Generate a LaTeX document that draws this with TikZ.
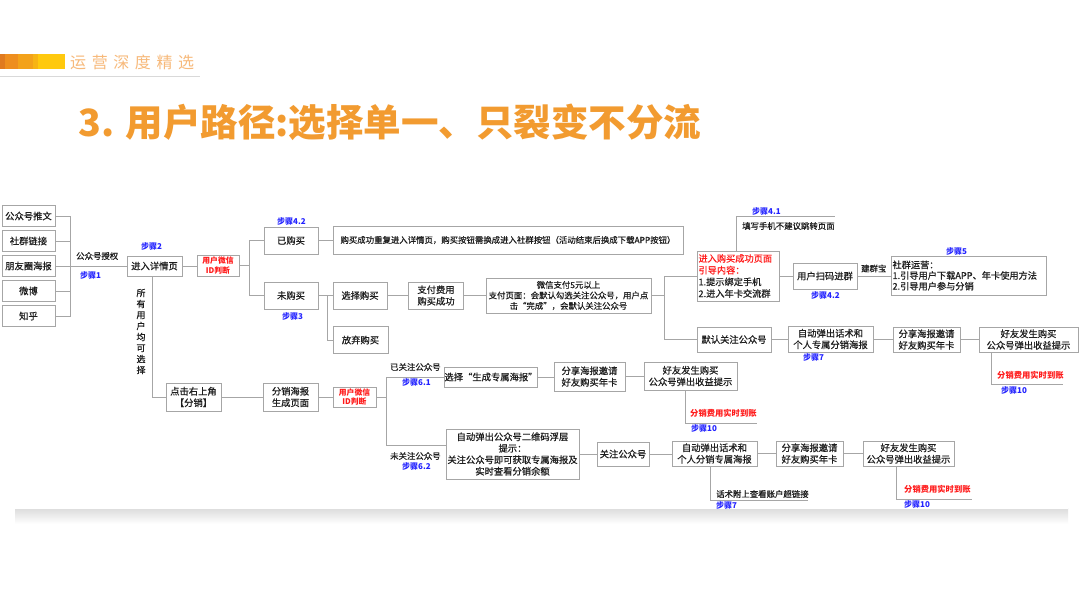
\documentclass[tikz,border=0pt]{standalone}
\usepackage{fontspec}
\setmainfont{Noto Sans CJK SC}
\newfontfamily\hdfont[LetterSpace=35]{Noto Sans CJK SC}
\newfontfamily\bxfont[FakeBold=0.6]{Noto Sans CJK SC}
\usetikzlibrary{calc}
\definecolor{ttl}{HTML}{F29B30}
\definecolor{hdr}{HTML}{F7B97A}
\definecolor{bx}{HTML}{A6A6A6}
\definecolor{ln}{HTML}{A6A6A6}
\definecolor{stepblue}{HTML}{2222FF}
\definecolor{redtxt}{HTML}{FF1A1A}
\definecolor{txt}{HTML}{1E1E1E}
\definecolor{barA}{HTML}{E07A1F}
\definecolor{barB}{HTML}{EE8E1E}
\definecolor{barC}{HTML}{F3A21A}
\definecolor{barD}{HTML}{F7B414}
\definecolor{barE}{HTML}{FFC90E}
\begin{document}
\begin{tikzpicture}[x=1pt,y=-1pt,
  box/.style={draw=bx, line width=0.9pt, fill=white, inner sep=0pt, text=txt, align=center,
    font=\bxfont\fontsize{9.3}{11.5}\selectfont},
  sbox/.style={box, font=\bxfont\fontsize{8.4}{10.5}\selectfont},
  idbox/.style={box, text=redtxt, font=\bfseries\fontsize{7.8}{9.5}\selectfont},
  lbox/.style={box, align=left, inner xsep=1.5pt},
  steplbl/.style={anchor=west, inner sep=0pt, text=stepblue, font=\bfseries\fontsize{8}{9}\selectfont},
  redlbl/.style={anchor=west, inner sep=0pt, text=redtxt, font=\bfseries\fontsize{8.3}{10}\selectfont},
  lbl/.style={anchor=west, inner sep=0pt, text=txt, font=\bxfont\fontsize{8.4}{10}\selectfont},
  conn/.style={draw=ln, line width=0.9pt}]
\useasboundingbox (0,0) rectangle (1080,608);
\fill[white] (0,0) rectangle (1080,608);
% card shadow
\shade[top color=black!14, bottom color=white] (15,508) rectangle (1068,524);
\fill[white] (15,200) rectangle (1068,509);
% header
\fill[barA] (0,54) rectangle (5,69);
\fill[barB] (5,54) rectangle (18,69);
\fill[barC] (18,54) rectangle (33,69);
\fill[barD] (33,54) rectangle (38,69);
\fill[barE] (38,54) rectangle (65,69);
\draw[black!15, line width=1pt] (0,76) -- (200,76);
\node[anchor=west, inner sep=0pt, text=hdr, font=\hdfont\fontsize{16}{16}\selectfont] (hd) at (70,62) {运营深度精选};
\node[anchor=west, inner sep=0pt, text=ttl, font=\bfseries\fontsize{37.5}{40}\selectfont] (title) at (78,122) {3. 用户路径:选择单一、只裂变不分流};

% left sources
\node[box, minimum width=53pt, minimum height=21pt] (s1) at (28.5,216) {公众号推文};
\node[box, minimum width=53pt, minimum height=21pt] (s2) at (28.5,241) {社群链接};
\node[box, minimum width=53pt, minimum height=21pt] (s3) at (28.5,266) {朋友圈海报};
\node[box, minimum width=53pt, minimum height=21pt] (s4) at (28.5,291) {微博};
\node[box, minimum width=53pt, minimum height=21pt] (s5) at (28.5,316) {知乎};
\coordinate (j1) at (70,266);

\node[box, minimum width=55pt, minimum height=20pt] (detail) at (154.5,266) {进入详情页};
\node[idbox, minimum width=42pt, minimum height=21pt] (id1) at (218,265.5) {用户微信\\ID判断};
\node[box, minimum width=54pt, minimum height=27pt] (bought) at (291,240.5) {已购买};
\node[box, minimum width=54pt, minimum height=27pt] (notb) at (291,295.5) {未购买};
\node[sbox, minimum width=350pt, minimum height=28pt] (rep) at (508,240) {购买成功重复进入详情页，购买按钮需换成进入社群按钮（活动结束后换成下载APP按钮）};
\node[box, minimum width=54pt, minimum height=27pt] (sel) at (360,295.5) {选择购买};
\node[box, minimum width=55pt, minimum height=27pt] (aband) at (360.5,340) {放弃购买};
\node[box, minimum width=55pt, minimum height=27pt] (pay) at (436,295.5) {支付费用\\购买成功};
\node[sbox, minimum width=165pt, minimum height=35pt] (wx) at (568.5,295.5) {微信支付5元以上\\支付页面：会默认勾选关注公众号，用户点\\击“完成”，会默认关注公众号};
\node[lbox, text width=79pt, minimum height=50pt, font=\bxfont\fontsize{9.2}{11.7}\selectfont] (succ) at (738,276) {\textcolor{redtxt}{进入购买成功页面}\\\textcolor{redtxt}{引导内容：}\\1.提示绑定手机\\2.进入年卡交流群};
\node[box, minimum width=64pt, minimum height=26pt] (scan) at (825,276) {用户扫码进群};
\node[lbox, text width=152pt, minimum height=39pt, font=\bxfont\fontsize{9.2}{10.7}\selectfont] (comm) at (968.5,275.5) {社群运营：\\1.引导用户下载APP、年卡使用方法\\2.引导用户参与分销};
\node[box, minimum width=74pt, minimum height=25pt] (dflt) at (734,339.5) {默认关注公众号};
\node[box, minimum width=85pt, minimum height=26pt] (pop1) at (830.5,339) {自动弹出话术和\\个人专属分销海报};
\node[box, minimum width=67pt, minimum height=25pt] (sh1) at (926.5,339.5) {分享海报邀请\\好友购买年卡};
\node[box, minimum width=99pt, minimum height=25pt] (fr1) at (1028.5,339.5) {好友发生购买\\公众号弹出收益提示};

\node[box, minimum width=55pt, minimum height=28pt] (click) at (193.5,397) {点击右上角\\【分销】};
\node[box, minimum width=55pt, minimum height=28pt] (post) at (290.5,397) {分销海报\\生成页面};
\node[idbox, minimum width=43pt, minimum height=20pt] (id2) at (354.5,397) {用户微信\\ID判断};
\node[box, minimum width=90pt, minimum height=20pt] (gen) at (491,377) {选择“生成专属海报”};
\node[box, minimum width=71pt, minimum height=29pt] (sh2) at (589.5,376.5) {分享海报邀请\\好友购买年卡};
\node[box, minimum width=93pt, minimum height=28pt] (fr2) at (690.5,376) {好友发生购买\\公众号弹出收益提示};
\node[box, minimum width=133pt, minimum height=50pt] (qr) at (512.5,454) {自动弹出公众号二维码浮层\\提示：\\关注公众号即可获取专属海报及\\实时查看分销余额};
\node[box, minimum width=52pt, minimum height=24pt] (fol) at (623,454) {关注公众号};
\node[box, minimum width=85pt, minimum height=25pt] (pop2) at (714.5,453.5) {自动弹出话术和\\个人分销专属海报};
\node[box, minimum width=67pt, minimum height=25pt] (sh3) at (809.5,453.5) {分享海报邀请\\好友购买年卡};
\node[box, minimum width=91pt, minimum height=25pt] (fr3) at (908.5,453.5) {好友发生购买\\公众号弹出收益提示};

% vertical text
\node[inner sep=0pt, align=center, text=txt, font=\bxfont\fontsize{9}{11}\selectfont] (vt) at (141,331.5) {所\\有\\用\\户\\均\\可\\选\\择};

% labels
\node[lbl] (l1) at (76,256) {公众号授权};
\node[steplbl] (st1) at (80,275) {步骤1};
\node[steplbl] (st2) at (141,246) {步骤2};
\node[steplbl] (st42a) at (277,221) {步骤4.2};
\node[steplbl] (st3) at (282,316) {步骤3};
\node[steplbl] (st41) at (752,211) {步骤4.1};
\node[lbl] (l41) at (742,226) {填写手机不建议跳转页面};
\node[steplbl] (st42b) at (811,295) {步骤4.2};
\node[lbl] (ljq) at (861,268.5) {建群宝};
\node[steplbl] (st5) at (946,251) {步骤5};
\node[steplbl] (st7a) at (803,357) {步骤7};
\node[redlbl] (r1) at (997,375) {分销费用实时到账};
\node[steplbl] (st10a) at (1001,390) {步骤10};
\node[lbl] (l61) at (390,367) {已关注公众号};
\node[steplbl] (st61) at (402,382) {步骤6.1};
\node[lbl] (l62) at (390,456) {未关注公众号};
\node[steplbl] (st62) at (402,466) {步骤6.2};
\node[redlbl] (r2) at (690,413) {分销费用实时到账};
\node[steplbl] (st10b) at (691,428) {步骤10};
\node[lbl] (lhs) at (716,494) {话术附上查看账户超链接};
\node[steplbl] (st7b) at (716,505) {步骤7};
\node[redlbl] (r3) at (904,489) {分销费用实时到账};
\node[steplbl] (st10c) at (904,504) {步骤10};

% connectors
\foreach \s in {s1,s2,s3,s4,s5} \draw[conn] (\s.east) -| (j1);
\draw[conn] (j1) -- (detail.west);
\draw[conn] (detail.east) -- (detail.east -| id1.west);
\coordinate (j2) at (249,265.5);
\draw[conn] (id1.east) -- (j2);
\draw[conn] (j2) |- (bought.west);
\draw[conn] (j2) |- (notb.west);
\draw[conn] (bought.east) -- (bought.east -| rep.west);
\coordinate (j3) at (327,295.5);
\draw[conn] (notb.east) -- (sel.west);
\draw[conn] (j3) |- (aband.west);
\draw[conn] (sel.east) -- (pay.west);
\draw[conn] (pay.east) -- (wx.west);
\coordinate (j4) at (664,295.5);
\draw[conn] (wx.east) -- (j4);
\draw[conn] (j4) |- (succ.west);
\draw[conn] (j4) |- (dflt.west);
\draw[conn] (succ.east) -- (scan.west);
\draw[conn] (scan.east) -- (scan.east -| comm.west);
\coordinate (e5) at (835,216);
\draw[conn] (succ.north west) ++(40,0) |- (e5);
\draw[conn] (dflt.east) -- (dflt.east -| pop1.west);
\draw[conn] (pop1.east) -- (pop1.east -| sh1.west);
\draw[conn] (sh1.east) -- (fr1.west);
\coordinate (e1) at (1063,384);
\draw[conn] (fr1.south west) ++(13,0) |- (e1);

\draw[conn] ([xshift=-2.5pt]detail.south) |- (click.west);
\draw[conn] (click.east) -- (post.west);
\draw[conn] (post.east) -- (id2.west);
\coordinate (j6) at (386,397);
\coordinate (j6b) at (386,445);
\draw[conn] (id2.east) -- (j6);
\draw[conn] (j6) |- (gen.west);
\draw[conn] (j6) -- (j6b) -- (j6b -| qr.west);
\draw[conn] (gen.east) -- (gen.east -| sh2.west);
\draw[conn] (sh2.east) -- (sh2.east -| fr2.west);
\coordinate (e2) at (757,423);
\draw[conn] (fr2.south west) ++(42,0) |- (e2);
\draw[conn] (qr.east) -- (fol.west);
\draw[conn] (fol.east) -- (fol.east -| pop2.west);
\draw[conn] (pop2.east) -- (sh3.west);
\draw[conn] (sh3.east) -- (fr3.west);
\coordinate (e4) at (808,500);
\draw[conn] (pop2.south west) ++(39,0) |- (e4);
\coordinate (e3) at (972,499);
\draw[conn] (fr3.south west) ++(34,0) |- (e3);
\end{tikzpicture}
\end{document}
